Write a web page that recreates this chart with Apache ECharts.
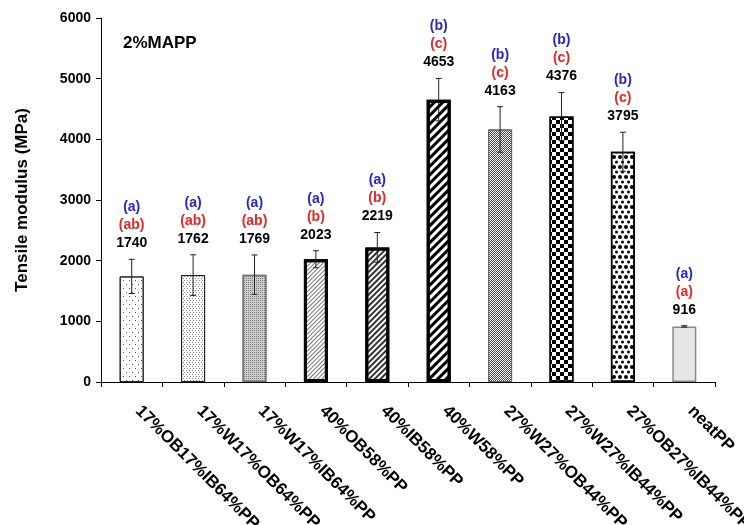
<!DOCTYPE html>
<html>
<head>
<meta charset="utf-8">
<script src="https://cdn.jsdelivr.net/npm/echarts@6/dist/echarts.min.js"></script>
<style>html,body{margin:0;padding:0;background:#fff;}#chart{width:744px;height:525px;}</style>
</head>
<body>
<div id="chart"></div>
<script>
const categories = ['17%OB17%IB64%PP', '17%W17%OB64%PP', '17%W17%IB64%PP', '40%OB58%PP', '40%IB58%PP', '40%W58%PP', '27%W27%OB44%PP', '27%W27%IB44%PP', '27%OB27%IB44%PP', 'neatPP'];
const modulus = [1740, 1762, 1769, 2023, 2219, 4653, 4163, 4376, 3795, 916];
const stdDev = [282, 335, 325, 140, 245, 350, 375, 395, 322, 12];
const groupBlue = ['(a)', '(a)', '(a)', '(a)', '(a)', '(b)', '(b)', '(b)', '(b)', '(a)'];
const groupRed = ['(ab)', '(ab)', '(ab)', '(b)', '(b)', '(c)', '(c)', '(c)', '(c)', '(a)'];
const yTicks = [0, 1000, 2000, 3000, 4000, 5000, 6000];

const FONT = '"Liberation Sans", Arial, sans-serif';
const HATCH = -Math.PI / 4;

const barStyles = [
  { color: '#fff', borderColor: '#222', borderWidth: 1,
    decal: { symbol: 'rect', symbolSize: 1, color: '#555', dashArrayX: [[1, 5], [0, 3, 1, 2]], dashArrayY: [1, 3] } },
  { color: '#fff', borderColor: '#222', borderWidth: 1,
    decal: { symbol: 'rect', symbolSize: 1, color: '#888', dashArrayX: [[1, 2], [0, 1, 1, 1]], dashArrayY: [1, 1] } },
  { color: '#cfcfcf', borderColor: '#777', borderWidth: 1.5,
    decal: { symbol: 'rect', symbolSize: 1, color: '#777', dashArrayX: [1, 1], dashArrayY: [1, 1] } },
  { color: '#fff', borderColor: '#000', borderWidth: 3,
    decal: { symbol: 'rect', symbolSize: 1, color: '#777', rotation: HATCH, dashArrayX: [1, 0], dashArrayY: [1, 2] } },
  { color: '#fff', borderColor: '#000', borderWidth: 3,
    decal: { symbol: 'rect', symbolSize: 1, color: '#333', rotation: HATCH, dashArrayX: [1, 0], dashArrayY: [1.5, 1.5] } },
  { color: '#fff', borderColor: '#000', borderWidth: 3,
    decal: { symbol: 'rect', symbolSize: 1, color: '#000', rotation: HATCH, dashArrayX: [1, 0], dashArrayY: [2.5, 3] } },
  { color: '#fff', borderColor: '#666', borderWidth: 1,
    decal: { symbol: 'rect', symbolSize: 1, color: '#444', dashArrayX: [[1, 1], [0, 1, 1, 0]], dashArrayY: [1, 0] } },
  { color: '#fff', borderColor: '#000', borderWidth: 1.5,
    decal: { symbol: 'rect', symbolSize: 1, color: '#000', dashArrayX: [[4, 4], [0, 4, 4, 0]], dashArrayY: [4, 0] } },
  { color: '#fff', borderColor: '#000', borderWidth: 1.5,
    decal: { symbol: 'circle', symbolSize: 1, color: '#000', dashArrayX: [[4, 2], [0, 3, 3, 0]], dashArrayY: [4, 1] } },
  { color: '#e6e6e6', borderColor: '#888', borderWidth: 1.5 }
];

const barData = modulus.map((v, i) => ({ value: v, itemStyle: barStyles[i] }));
const errData = modulus.map((v, i) => [i, v, stdDev[i]]);

const chart = echarts.init(document.getElementById('chart'), null, { renderer: 'canvas' });
chart.setOption({
  animation: false,
  backgroundColor: '#fff',
  title: {
    text: '2%MAPP', left: 118, top: 30,
    textStyle: { fontFamily: FONT, fontSize: 17, fontWeight: 'bold', color: '#000' }
  },
  grid: { left: 101, right: 29, top: 18, bottom: 143, containLabel: false, outerBoundsMode: 'none' },
  xAxis: {
    type: 'category',
    data: categories,
    axisLine: { lineStyle: { color: '#000', width: 1 } },
    axisTick: { show: true, length: 5, lineStyle: { color: '#000' } },
    axisLabel: {
      rotate: -45, margin: 20, interval: 0, padding: [0, 0, 0, 9],
      fontFamily: FONT, fontSize: 17, fontWeight: 'bold', color: '#000'
    }
  },
  yAxis: {
    type: 'value', min: yTicks[0], max: yTicks[yTicks.length - 1], interval: 1000,
    name: 'Tensile modulus (MPa)', nameLocation: 'middle', nameGap: 70,
    nameTextStyle: { fontFamily: FONT, fontSize: 17, fontWeight: 'bold', color: '#000' },
    axisLine: { show: true, lineStyle: { color: '#000', width: 1 } },
    axisTick: { show: true, length: 5, lineStyle: { color: '#000' } },
    splitLine: { show: false },
    axisLabel: { fontFamily: FONT, fontSize: 14, fontWeight: 'bold', color: '#000', margin: 10,
                 formatter: v => String(v) }
  },
  series: [
    { type: 'bar', data: barData, barWidth: 24, z: 2 },
    {
      type: 'custom', z: 5, data: errData,
      renderItem: function (params, api) {
        const i = api.value(0), v = api.value(1), e = api.value(2);
        const top = api.coord([i, v + e]);
        const bot = api.coord([i, v - e]);
        const x = top[0];
        const ls = { stroke: '#222', lineWidth: 1 };
        const t = (text, y, fill) => ({
          type: 'text', x: x, y: y,
          style: { text: text, fill: fill, align: 'center', verticalAlign: 'middle',
                   fontFamily: FONT, fontSize: 14, fontWeight: 'bold' }
        });
        return {
          type: 'group',
          children: [
            { type: 'line', shape: { x1: x, y1: top[1], x2: x, y2: bot[1] }, style: ls },
            { type: 'line', shape: { x1: x - 3, y1: top[1], x2: x + 3, y2: top[1] }, style: ls },
            { type: 'line', shape: { x1: x - 3, y1: bot[1], x2: x + 3, y2: bot[1] }, style: ls },
            t(String(v), top[1] - 16, '#000'),
            t(groupRed[i], top[1] - 34, '#e02828'),
            t(groupBlue[i], top[1] - 52, '#2525c8')
          ]
        };
      }
    }
  ]
});
</script>
</body>
</html>
